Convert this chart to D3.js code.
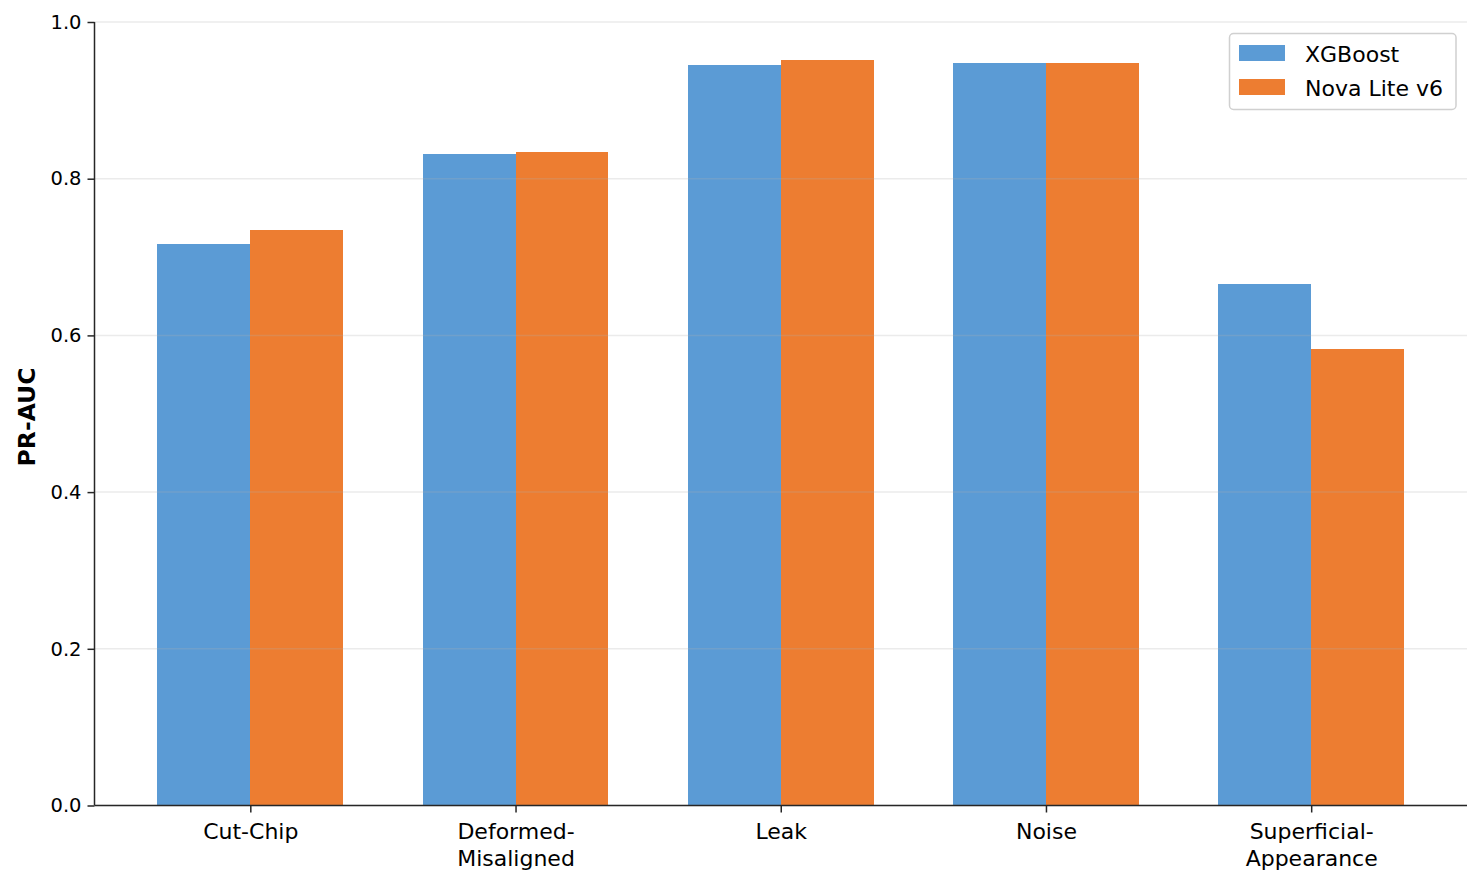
<!DOCTYPE html>
<html>
<head>
<meta charset="utf-8">
<script src="https://cdn.jsdelivr.net/npm/d3@7"></script>
<style>
  body { margin: 0; background: #fff; }
  text { font-family: "DejaVu Sans", sans-serif; fill: #000; }
</style>
</head>
<body>
<script>
// categories and series
var categories = ["Cut-Chip", "Deformed-\nMisaligned", "Leak", "Noise", "Superficial-\nAppearance"];
var xgboost = [0.717, 0.832, 0.945, 0.948, 0.666];
var novaLite = [0.735, 0.834, 0.951, 0.948, 0.583];
var seriesNames = ["XGBoost", "Nova Lite v6"];
var seriesColors = ["#5b9bd5", "#ed7d31"];
var yTicks = [0, 0.2, 0.4, 0.6, 0.8, 1.0];

var W = 1482, H = 885;
// note: "top" is window.top, so use other names
var plotLeft = 94.5, plotRight = 1467, plotTop = 22, plotBottom = 805.5;
var barW = 0.35;

var svg = d3.select("body").append("svg")
	.attr("width", W)
	.attr("height", H);

var x = d3.scaleLinear()
	.domain([-0.5875, categories.length - 1 + 0.5875])
	.range([plotLeft, plotRight]);

var y = d3.scaleLinear()
	.domain([0, 1])
	.range([plotBottom, plotTop]);

var series = [xgboost, novaLite].map(function (vals, s) {
	return vals.map(function (v, i) {
		return { i: i, v: v, s: s };
	});
});

// bars
svg.selectAll("g.series")
	.data(series)
	.enter()
	.append("g")
	.attr("class", "series")
	.style("fill", function (d, s) { return seriesColors[s]; })
	.style("shape-rendering", "crispEdges")
	.selectAll("rect")
	.data(function (d) { return d; })
	.enter()
	.append("rect")
	.attr("x", function (d) { return x(d.i + (d.s === 0 ? -barW : 0)); })
	.attr("y", function (d) { return y(d.v); })
	.attr("width", function (d) { return x(barW) - x(0); })
	.attr("height", function (d) { return y(0) - y(d.v); });

// grid drawn over the bars, semi transparent like matplotlib
svg.append("g")
	.selectAll("line")
	.data(yTicks)
	.enter()
	.append("line")
	.attr("x1", plotLeft)
	.attr("x2", plotRight)
	.attr("y1", function (d) { return y(d); })
	.attr("y2", function (d) { return y(d); })
	.style("stroke", "#b0b0b0")
	.style("stroke-opacity", 0.25)
	.style("stroke-width", 1.5);

// y axis
var yAxis = svg.append("g")
	.attr("transform", "translate(" + plotLeft + ",0)")
	.call(d3.axisLeft(y).tickValues(yTicks).tickFormat(d3.format(".1f")).tickSize(7).tickPadding(6));
yAxis.selectAll("text").style("font-size", "19.5px");

// x axis
var xAxis = svg.append("g")
	.attr("transform", "translate(0," + plotBottom + ")")
	.call(d3.axisBottom(x).tickValues(d3.range(categories.length)).tickFormat("").tickSize(7));

xAxis.selectAll(".tick")
	.append("text")
	.attr("text-anchor", "middle")
	.style("font-size", "22px")
	.selectAll("tspan")
	.data(function (d) { return categories[d].split("\n"); })
	.enter()
	.append("tspan")
	.attr("x", 0)
	.attr("y", function (d, k) { return 33 + k * 27; })
	.text(function (d) { return d; });

[yAxis, xAxis].forEach(function (a) {
	a.select(".domain").style("stroke", "#262626").style("stroke-width", 1.5);
	a.selectAll(".tick line").style("stroke", "#262626").style("stroke-width", 1.5);
});
// axis paths without the outer ticks
yAxis.select(".domain").attr("d", "M0," + plotTop + "V" + plotBottom);
xAxis.select(".domain").attr("d", "M" + plotLeft + ",0H" + plotRight);

// y label
svg.append("text")
	.attr("transform", "translate(35,417) rotate(-90)")
	.attr("text-anchor", "middle")
	.style("font-size", "23.5px")
	.style("font-weight", "bold")
	.text("PR-AUC");

// legend
var legend = svg.append("g");
legend.append("rect")
	.attr("x", 1229.5)
	.attr("y", 33.5)
	.attr("width", 226.5)
	.attr("height", 76)
	.attr("rx", 4)
	.style("fill", "#fff")
	.style("fill-opacity", 0.8)
	.style("stroke", "#d0d0d0")
	.style("stroke-width", 1.5);

var item = legend.selectAll("g.item")
	.data(seriesNames)
	.enter()
	.append("g")
	.attr("class", "item")
	.attr("transform", function (d, i) { return "translate(1239," + (45 + i * 34) + ")"; });

item.append("rect")
	.attr("width", 46)
	.attr("height", 16)
	.style("fill", function (d, i) { return seriesColors[i]; });

item.append("text")
	.attr("x", 66)
	.attr("y", 16.5)
	.style("font-size", "22px")
	.text(function (d) { return d; });
</script>
</body>
</html>
